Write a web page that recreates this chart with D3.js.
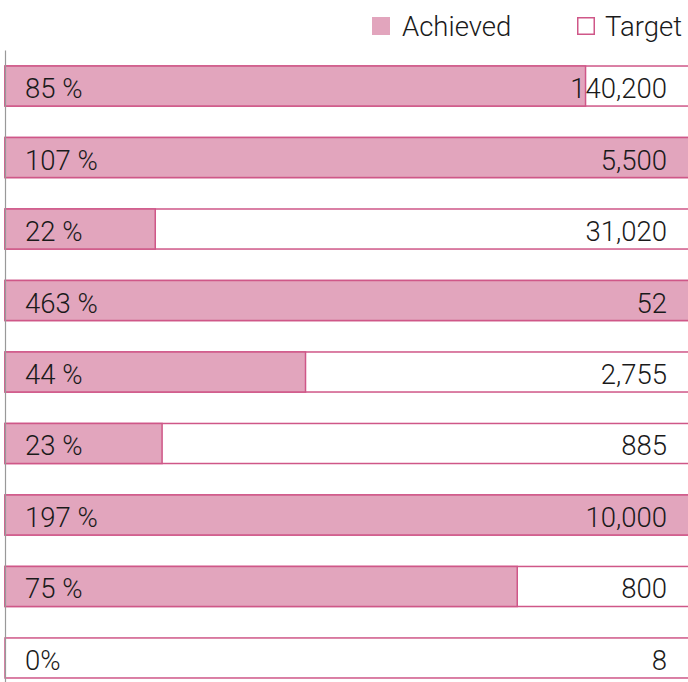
<!DOCTYPE html>
<html>
<head>
<meta charset="utf-8">
<script src="https://cdn.jsdelivr.net/npm/d3@7"></script>
<style>
  html, body { margin: 0; padding: 0; background: #fff; }
  svg text { font-family: Roboto, "Helvetica Neue", Arial, sans-serif; font-weight: 300; fill: #1a1a1a; }
</style>
</head>
<body>
<svg id="chart" width="688" height="682"></svg>
<script>
// Achievement per goal, as percent of target
const achievedPct = [85, 107, 22, 463, 44, 23, 197, 75, 0];
// Target for each goal
const targets = [140200, 5500, 31020, 52, 2755, 885, 10000, 800, 8];
const legendItems = ["Achieved", "Target"];

const W = 688, H = 682;
const fillAchieved = "#e2a5bd";
const strokeColor = "#cf5788";
const fontSize = 27.5;

const svg = d3.select("#chart");

const y = d3.scaleBand()
  .domain(d3.range(achievedPct.length))
  .range([50, 694])
  .paddingInner(0.44)
  .paddingOuter(0.224);

const x = d3.scaleLinear().domain([0, 100]).range([5, 688]).clamp(true);

const rows = svg.append("g").selectAll("g")
  .data(achievedPct.map((p, i) => ({ p, t: targets[i], i })))
  .join("g")
  .attr("transform", d => `translate(0,${y(d.i)})`);

// target (100%) band
rows.append("rect")
  .attr("x", x(0))
  .attr("y", 0)
  .attr("width", x(100) - x(0) + 4)
  .attr("height", y.bandwidth())
  .attr("fill", "#fff")
  .attr("stroke", strokeColor)
  .attr("stroke-width", 1.5);

// achieved portion, capped at the target
rows.filter(d => d.p > 0).append("rect")
  .attr("x", x(0))
  .attr("y", 0)
  .attr("width", d => d.p >= 100 ? x(100) - x(0) + 4 : x(d.p) - x(0))
  .attr("height", y.bandwidth())
  .attr("fill", fillAchieved)
  .attr("stroke", strokeColor)
  .attr("stroke-width", 1.5);

const fmtPct = p => p === 0 ? "0%" : p + " %";
const fmtNum = d3.format(",");

rows.append("text")
  .attr("x", 25)
  .attr("y", y.bandwidth() / 2 + 12)
  .attr("font-size", fontSize)
  .text(d => fmtPct(d.p));

rows.append("text")
  .attr("x", 667)
  .attr("y", y.bandwidth() / 2 + 12)
  .attr("text-anchor", "end")
  .attr("font-size", fontSize)
  .text(d => fmtNum(d.t));

// left axis line
const yAxis = d3.axisLeft(d3.scaleLinear().range([50, H])).ticks(0).tickSize(0);
svg.append("g")
  .attr("transform", "translate(5,0)")
  .call(yAxis)
  .call(g => g.select(".domain").attr("stroke", "#999").attr("stroke-width", 1.2))
  .call(g => g.selectAll(".tick").remove());

// legend
const legend = svg.append("g");
const legendX = [372, 577];
legendItems.forEach((name, i) => {
  const lg = legend.append("g").attr("transform", `translate(${legendX[i]},17)`);
  lg.append("rect")
    .attr("x", i === 0 ? 0 : 0.75)
    .attr("y", i === 0 ? 0 : 0.75)
    .attr("width", i === 0 ? 18 : 16.5)
    .attr("height", i === 0 ? 18 : 16.5)
    .attr("fill", i === 0 ? fillAchieved : "#fff")
    .attr("stroke", i === 0 ? "none" : strokeColor)
    .attr("stroke-width", 1.5);
  lg.append("text")
    .attr("x", i === 0 ? 30 : 28)
    .attr("y", 18.5)
    .attr("font-size", fontSize)
    .text(name);
});
</script>
</body>
</html>
